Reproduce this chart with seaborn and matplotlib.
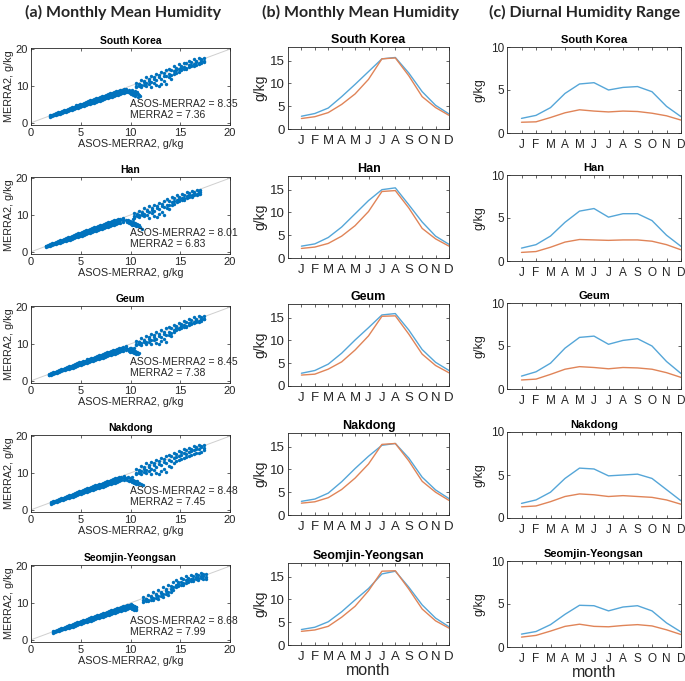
import matplotlib
matplotlib.use("Agg")
import matplotlib.pyplot as plt
import seaborn as sns
import pandas as pd

# ============ data ============
regions = ["South Korea", "Han", "Geum", "Nakdong", "Seomjin-Yeongsan"]
months = ["J", "F", "M", "A", "M", "J", "J", "A", "S", "O", "N", "D"]

# (a) scatter: ASOS-MERRA2 (x) vs MERRA2 (y), monthly means.
# each cloud is read as a low band, a cluster near x=10 and a high band;
# the bands are read at three heights (a = top, b = middle, c = bottom)
sk_lo_x = [1.9, 2.1, 2.3, 2.5, 2.7, 2.9, 3.1, 3.3, 3.5, 3.7, 3.9, 4.1, 4.3, 4.5, 4.7, 4.9, 5.1, 5.3, 5.5, 5.7, 5.9, 6.1, 6.3, 6.5, 6.7, 6.9, 7.1, 7.3, 7.5, 7.7, 7.9, 8.1, 8.3, 8.5, 8.7, 8.9, 9.1, 9.3, 9.5]
sk_lo_a = [2.0, 2.2, 2.4, 2.6, 2.8, 3.0, 3.2, 3.4, 3.6, 3.8, 4.0, 4.2, 4.4, 4.7, 4.8, 5.1, 5.2, 5.4, 5.7, 5.8, 6.1, 6.2, 6.4, 6.7, 6.8, 7.0, 7.2, 7.4, 7.6, 7.8, 8.0, 8.1, 8.3, 8.5, 8.7, 8.8, 9.0, 9.1, 9.3]
sk_lo_b = [1.8, 2.0, 2.2, 2.3, 2.5, 2.7, 2.9, 3.1, 3.3, 3.5, 3.7, 3.9, 4.1, 4.3, 4.4, 4.7, 4.8, 5.0, 5.2, 5.4, 5.6, 5.7, 5.9, 6.1, 6.3, 6.5, 6.7, 6.9, 7.1, 7.3, 7.5, 7.6, 7.8, 8.0, 8.2, 8.3, 8.5, 8.7, 8.9]
sk_lo_c = [1.6, 1.8, 2.0, 2.1, 2.3, 2.5, 2.7, 2.9, 3.0, 3.2, 3.4, 3.6, 3.8, 3.9, 4.1, 4.3, 4.5, 4.6, 4.8, 5.0, 5.2, 5.3, 5.5, 5.7, 5.9, 6.0, 6.2, 6.4, 6.6, 6.8, 6.9, 7.1, 7.3, 7.5, 7.6, 7.8, 8.0, 8.2, 8.4]
sk_cl_x = [9.6, 9.7, 9.8, 9.9, 10.0, 10.1, 10.2, 10.3, 10.4, 10.5, 10.6, 10.7, 10.8, 10.9, 11.0, 10.2, 10.5, 10.8]
sk_cl_y = [8.7, 8.3, 8.9, 8.0, 8.6, 7.7, 8.4, 7.5, 8.1, 7.2, 7.9, 8.3, 7.0, 7.6, 7.3, 9.0, 8.7, 7.8]
sk_up_x = [10.6, 10.9, 11.1, 11.4, 11.6, 11.9, 12.1, 12.4, 12.6, 12.9, 13.1, 13.4, 13.6, 13.9, 14.1, 14.4, 14.6, 14.9, 15.1, 15.4, 15.6, 15.9, 16.1, 16.4, 16.6, 16.9, 17.1, 17.4]
sk_up_a = [10.9, 10.6, 11.6, 11.3, 12.3, 11.8, 12.8, 12.4, 13.3, 12.9, 13.8, 13.4, 14.2, 14.6, 14.4, 15.3, 15.0, 15.9, 15.5, 16.3, 16.1, 16.8, 16.4, 17.2, 16.9, 17.6, 17.2, 17.5]
sk_up_b = [10.0, 10.5, 10.3, 11.0, 10.7, 11.4, 11.1, 11.9, 11.5, 12.3, 11.9, 12.7, 12.6, 13.3, 13.1, 14.0, 14.3, 14.5, 14.9, 15.2, 15.0, 15.7, 15.8, 16.0, 16.5, 16.3, 16.9, 16.8]
sk_up_c = [9.6, 9.9, 9.7, 10.3, 10.0, 10.5, 9.7, 10.9, 10.2, 9.9, 10.6, 11.3, 10.5, 12.4, 12.0, 13.2, 13.6, 13.9, 14.2, 14.5, 14.6, 15.1, 15.3, 15.5, 15.8, 15.9, 16.2, 16.6]

han_lo_x = [1.5, 1.7, 1.9, 2.1, 2.3, 2.5, 2.7, 2.9, 3.1, 3.3, 3.5, 3.7, 3.9, 4.1, 4.3, 4.5, 4.7, 4.9, 5.1, 5.3, 5.5, 5.7, 5.9, 6.1, 6.3, 6.5, 6.7, 6.9, 7.1, 7.3, 7.5, 7.7, 7.9, 8.1, 8.3, 8.5, 8.7, 8.9, 9.2]
han_lo_a = [1.7, 1.9, 2.1, 2.3, 2.5, 2.7, 2.9, 3.1, 3.3, 3.5, 3.7, 3.9, 4.1, 4.4, 4.6, 4.8, 5.0, 5.2, 5.4, 5.6, 5.9, 6.0, 6.2, 6.4, 6.6, 6.8, 7.0, 7.2, 7.4, 7.6, 7.8, 8.0, 8.2, 8.4, 8.5, 8.7, 8.9, 9.0, 9.2]
han_lo_b = [1.5, 1.6, 1.8, 2.0, 2.2, 2.4, 2.6, 2.7, 2.9, 3.1, 3.3, 3.5, 3.7, 3.9, 4.1, 4.3, 4.5, 4.7, 4.9, 5.1, 5.3, 5.5, 5.7, 5.9, 6.1, 6.2, 6.4, 6.6, 6.8, 7.0, 7.2, 7.4, 7.6, 7.8, 8.0, 8.1, 8.3, 8.5, 8.7]
han_lo_c = [1.3, 1.5, 1.6, 1.8, 2.0, 2.1, 2.3, 2.5, 2.6, 2.8, 3.0, 3.2, 3.3, 3.5, 3.7, 3.9, 4.1, 4.2, 4.4, 4.6, 4.8, 5.0, 5.2, 5.4, 5.6, 5.7, 5.9, 6.1, 6.3, 6.5, 6.6, 6.8, 7.0, 7.2, 7.4, 7.5, 7.7, 7.9, 8.1]
han_cl_x = [9.5, 9.6, 9.7, 9.8, 9.9, 10.0, 10.1, 10.2, 10.3, 10.4, 10.5, 10.6, 10.7, 10.8, 10.9, 11.0, 11.2, 10.3]
han_cl_y = [8.5, 8.1, 8.7, 7.8, 8.4, 7.6, 8.2, 7.4, 8.0, 7.2, 7.8, 7.0, 7.5, 6.9, 7.3, 6.8, 6.3, 8.8]
han_up_x = [10.4, 10.7, 10.9, 11.2, 11.4, 11.7, 11.9, 12.2, 12.4, 12.7, 12.9, 13.2, 13.4, 13.7, 13.9, 14.2, 14.4, 14.7, 14.9, 15.2, 15.4, 15.7, 15.9, 16.2, 16.4, 16.7, 16.9, 17.0]
han_up_a = [10.5, 10.2, 11.1, 10.8, 11.8, 11.4, 12.3, 12.0, 12.8, 12.5, 13.3, 12.9, 13.8, 14.2, 13.9, 14.8, 14.5, 15.3, 15.0, 15.8, 15.5, 16.2, 15.9, 16.6, 16.3, 16.9, 16.6, 16.8]
han_up_b = [9.7, 10.1, 9.9, 10.6, 10.3, 11.0, 10.7, 11.4, 11.1, 11.9, 11.5, 12.3, 12.1, 12.8, 12.6, 13.5, 13.8, 14.0, 14.4, 14.7, 14.6, 15.2, 15.3, 15.5, 15.9, 15.7, 16.2, 16.1]
han_up_c = [9.3, 9.6, 9.4, 9.9, 9.6, 10.1, 9.3, 10.4, 9.8, 9.5, 10.2, 10.8, 10.0, 11.9, 11.5, 12.7, 13.1, 13.4, 13.7, 14.0, 14.1, 14.6, 14.8, 15.0, 15.3, 15.4, 15.7, 15.8]

geum_lo_x = [1.8, 2.0, 2.2, 2.4, 2.6, 2.8, 3.0, 3.2, 3.4, 3.6, 3.8, 4.0, 4.2, 4.4, 4.6, 4.8, 5.0, 5.2, 5.4, 5.6, 5.8, 6.0, 6.2, 6.4, 6.6, 6.8, 7.0, 7.2, 7.4, 7.6, 7.8, 8.0, 8.2, 8.4, 8.6, 8.8, 9.0, 9.2, 9.5]
geum_lo_a = [1.9, 2.1, 2.3, 2.5, 2.7, 2.9, 3.1, 3.3, 3.5, 3.7, 3.9, 4.1, 4.3, 4.5, 4.8, 5.0, 5.1, 5.3, 5.5, 5.8, 6.0, 6.1, 6.3, 6.5, 6.7, 6.9, 7.1, 7.3, 7.5, 7.7, 7.9, 8.1, 8.3, 8.4, 8.6, 8.8, 9.0, 9.2, 9.4]
geum_lo_b = [1.7, 1.9, 2.1, 2.2, 2.4, 2.6, 2.8, 3.0, 3.2, 3.4, 3.6, 3.8, 3.9, 4.1, 4.3, 4.5, 4.7, 4.9, 5.1, 5.3, 5.5, 5.7, 5.9, 6.0, 6.2, 6.4, 6.6, 6.8, 7.0, 7.2, 7.4, 7.6, 7.8, 8.0, 8.1, 8.3, 8.5, 8.7, 8.9]
geum_lo_c = [1.5, 1.7, 1.9, 2.1, 2.2, 2.4, 2.6, 2.8, 2.9, 3.1, 3.3, 3.5, 3.6, 3.8, 4.0, 4.2, 4.4, 4.5, 4.7, 4.9, 5.1, 5.3, 5.4, 5.6, 5.8, 6.0, 6.2, 6.3, 6.5, 6.7, 6.9, 7.1, 7.3, 7.4, 7.6, 7.8, 8.0, 8.2, 8.4]
geum_cl_x = [9.7, 9.8, 9.9, 10.0, 10.1, 10.2, 10.3, 10.4, 10.5, 10.6, 10.7, 10.8, 10.9, 10.1, 10.4, 9.9]
geum_cl_y = [8.6, 8.2, 8.8, 8.0, 8.5, 7.8, 8.3, 7.6, 8.1, 7.4, 7.9, 7.3, 7.6, 9.0, 8.8, 7.7]
geum_up_x = [10.6, 10.9, 11.1, 11.4, 11.6, 11.9, 12.1, 12.4, 12.6, 12.9, 13.1, 13.4, 13.6, 13.9, 14.1, 14.4, 14.6, 14.9, 15.1, 15.4, 15.6, 15.9, 16.1, 16.4, 16.6, 16.9, 17.1, 17.4]
geum_up_a = [10.8, 10.5, 11.5, 11.2, 12.2, 11.8, 12.7, 12.3, 13.2, 12.8, 13.7, 13.3, 14.2, 14.6, 14.3, 15.2, 14.9, 15.8, 15.5, 16.3, 16.0, 16.8, 16.4, 17.3, 16.9, 17.7, 17.3, 17.6]
geum_up_b = [9.9, 10.4, 10.2, 10.9, 10.6, 11.3, 11.0, 11.8, 11.4, 12.2, 11.8, 12.6, 12.5, 13.2, 13.0, 13.9, 14.2, 14.4, 14.8, 15.1, 14.9, 15.6, 15.7, 15.9, 16.4, 16.2, 16.8, 16.7]
geum_up_c = [9.7, 10.0, 9.8, 10.4, 10.1, 10.6, 9.9, 11.0, 10.3, 10.0, 10.7, 11.4, 10.6, 12.5, 12.1, 13.3, 13.7, 14.0, 14.3, 14.6, 14.7, 15.2, 15.4, 15.6, 15.9, 16.0, 16.3, 16.7]

nak_lo_x = [2.0, 2.2, 2.4, 2.6, 2.8, 3.0, 3.2, 3.4, 3.6, 3.8, 4.0, 4.2, 4.4, 4.6, 4.8, 5.0, 5.2, 5.4, 5.6, 5.8, 6.0, 6.2, 6.4, 6.6, 6.8, 7.0, 7.2, 7.4, 7.6, 7.8, 8.0, 8.2, 8.4, 8.6, 8.8, 9.0, 9.3]
nak_lo_a = [2.1, 2.3, 2.5, 2.7, 2.9, 3.1, 3.3, 3.5, 3.7, 3.9, 4.1, 4.3, 4.5, 4.8, 5.0, 5.2, 5.4, 5.6, 5.8, 6.0, 6.2, 6.4, 6.6, 6.8, 7.0, 7.1, 7.3, 7.5, 7.7, 7.9, 8.1, 8.3, 8.5, 8.6, 8.8, 9.0, 9.2]
nak_lo_b = [1.9, 2.1, 2.3, 2.4, 2.6, 2.8, 3.0, 3.2, 3.4, 3.6, 3.8, 4.0, 4.2, 4.3, 4.5, 4.7, 4.9, 5.1, 5.3, 5.5, 5.7, 5.9, 6.1, 6.3, 6.4, 6.6, 6.8, 7.0, 7.2, 7.4, 7.6, 7.7, 7.9, 8.1, 8.3, 8.5, 8.7]
nak_lo_c = [1.7, 1.9, 2.1, 2.2, 2.4, 2.6, 2.7, 2.9, 3.1, 3.3, 3.5, 3.6, 3.8, 4.0, 4.2, 4.4, 4.5, 4.7, 4.9, 5.1, 5.3, 5.4, 5.6, 5.8, 6.0, 6.2, 6.3, 6.5, 6.7, 6.9, 7.1, 7.2, 7.4, 7.6, 7.8, 8.0, 8.2]
nak_cl_x = [9.5, 9.6, 9.7, 9.8, 9.9, 10.0, 10.1, 10.2, 10.3, 10.4, 10.5, 10.6, 10.7, 10.8, 10.9, 11.1, 11.3, 10.2]
nak_cl_y = [8.6, 8.2, 8.8, 7.9, 8.5, 7.7, 8.3, 7.5, 8.1, 7.3, 7.9, 7.1, 7.7, 7.0, 7.4, 6.9, 6.8, 9.0]
nak_up_x = [10.6, 10.9, 11.1, 11.4, 11.6, 11.9, 12.1, 12.4, 12.6, 12.9, 13.1, 13.4, 13.6, 13.9, 14.1, 14.4, 14.6, 14.9, 15.1, 15.4, 15.6, 15.9, 16.1, 16.4, 16.6, 16.9, 17.1, 17.4]
nak_up_a = [11.1, 10.8, 11.9, 11.5, 12.6, 12.1, 13.1, 12.7, 13.6, 13.2, 14.1, 13.7, 14.5, 14.9, 14.6, 15.5, 15.2, 16.0, 15.7, 16.5, 16.2, 16.9, 16.6, 17.3, 17.0, 17.6, 17.3, 17.5]
nak_up_b = [10.1, 10.6, 10.4, 11.1, 10.8, 11.6, 11.2, 12.1, 11.7, 12.5, 12.1, 12.9, 12.7, 13.5, 13.3, 14.1, 14.4, 14.7, 15.0, 15.3, 15.1, 15.8, 15.9, 16.1, 16.6, 16.4, 17.0, 16.8]
nak_up_c = [9.6, 9.9, 9.7, 10.2, 9.9, 10.4, 9.6, 10.7, 10.0, 9.8, 10.4, 11.0, 10.3, 12.0, 11.6, 12.8, 13.2, 13.5, 13.8, 14.1, 14.2, 14.7, 14.9, 15.1, 15.4, 15.5, 15.8, 16.2]

sy_lo_x = [2.2, 2.4, 2.6, 2.8, 3.0, 3.2, 3.4, 3.6, 3.8, 4.0, 4.2, 4.4, 4.6, 4.8, 5.0, 5.2, 5.4, 5.6, 5.8, 6.0, 6.2, 6.4, 6.6, 6.8, 7.0, 7.2, 7.4, 7.6, 7.8, 8.0, 8.2, 8.4, 8.6, 8.8, 9.0, 9.2, 9.4, 9.6, 9.8, 10.0, 10.2, 10.4, 10.6]
sy_lo_a = [2.3, 2.5, 2.7, 2.9, 3.1, 3.3, 3.5, 3.7, 3.9, 4.1, 4.3, 4.5, 4.7, 4.9, 5.1, 5.3, 5.5, 5.7, 5.9, 6.1, 6.3, 6.5, 6.6, 6.8, 7.0, 7.2, 7.4, 7.6, 7.8, 8.0, 8.1, 8.3, 8.5, 8.7, 8.9, 9.1, 9.2, 9.4, 9.5, 9.6, 9.4, 9.2, 8.9]
sy_lo_b = [2.1, 2.3, 2.5, 2.6, 2.8, 3.0, 3.2, 3.4, 3.6, 3.8, 4.0, 4.2, 4.3, 4.5, 4.7, 4.9, 5.1, 5.3, 5.5, 5.7, 5.8, 6.0, 6.2, 6.4, 6.6, 6.8, 6.9, 7.1, 7.3, 7.5, 7.7, 7.8, 8.0, 8.2, 8.4, 8.6, 8.7, 8.9, 9.0, 9.1, 8.9, 8.7, 8.4]
sy_lo_c = [1.9, 2.1, 2.3, 2.4, 2.6, 2.8, 2.9, 3.1, 3.3, 3.5, 3.6, 3.8, 4.0, 4.2, 4.3, 4.5, 4.7, 4.9, 5.1, 5.2, 5.4, 5.6, 5.8, 5.9, 6.1, 6.3, 6.5, 6.6, 6.8, 7.0, 7.2, 7.3, 7.5, 7.7, 7.9, 8.1, 8.2, 8.4, 8.5, 8.6, 8.4, 8.2, 8.0]
sy_cl_x = [10.0, 10.1, 10.2, 10.3, 10.4, 10.5, 10.6, 10.2]
sy_cl_y = [9.2, 8.8, 9.5, 9.0, 9.3, 8.7, 9.0, 8.5]
sy_up_x = [11.3, 11.6, 11.8, 12.1, 12.3, 12.6, 12.8, 13.1, 13.3, 13.6, 13.8, 14.1, 14.3, 14.6, 14.8, 15.1, 15.3, 15.6, 15.8, 16.1, 16.3, 16.6, 16.8, 17.1, 17.3, 17.6]
sy_up_a = [11.5, 11.2, 12.2, 11.9, 12.9, 12.5, 13.5, 13.1, 14.2, 13.8, 14.9, 14.5, 15.6, 16.1, 15.8, 16.7, 16.4, 17.2, 16.9, 17.6, 17.3, 17.9, 17.5, 18.1, 17.8, 17.9]
sy_up_b = [10.7, 11.1, 10.9, 11.6, 11.4, 12.1, 11.8, 12.6, 12.4, 13.2, 13.0, 13.9, 14.3, 14.9, 15.2, 15.6, 15.4, 16.1, 16.3, 16.6, 16.5, 17.0, 16.9, 17.3, 17.2, 17.1]
sy_up_c = [10.3, 10.5, 10.4, 10.9, 10.7, 11.3, 11.0, 11.8, 11.6, 12.4, 12.2, 13.0, 13.6, 14.2, 14.6, 15.0, 14.9, 15.5, 15.7, 16.0, 15.9, 16.4, 16.3, 16.7, 16.6, 16.5]

clouds = [
    (sk_lo_x, sk_lo_a, sk_lo_b, sk_lo_c, sk_cl_x, sk_cl_y, sk_up_x, sk_up_a, sk_up_b, sk_up_c),
    (han_lo_x, han_lo_a, han_lo_b, han_lo_c, han_cl_x, han_cl_y, han_up_x, han_up_a, han_up_b, han_up_c),
    (geum_lo_x, geum_lo_a, geum_lo_b, geum_lo_c, geum_cl_x, geum_cl_y, geum_up_x, geum_up_a, geum_up_b, geum_up_c),
    (nak_lo_x, nak_lo_a, nak_lo_b, nak_lo_c, nak_cl_x, nak_cl_y, nak_up_x, nak_up_a, nak_up_b, nak_up_c),
    (sy_lo_x, sy_lo_a, sy_lo_b, sy_lo_c, sy_cl_x, sy_cl_y, sy_up_x, sy_up_a, sy_up_b, sy_up_c),
]
stat_asos = [8.35, 8.01, 8.45, 8.48, 8.68]
stat_merra = [7.36, 6.83, 7.38, 7.45, 7.99]

# (b) monthly mean humidity, g/kg
mean_asos = [
    [2.8, 3.4, 4.6, 7.1, 9.8, 12.6, 15.4, 15.7, 12.3, 8.2, 5.2, 3.3],
    [2.6, 3.1, 4.5, 6.8, 9.7, 12.6, 15.0, 15.4, 11.7, 7.9, 4.8, 3.0],
    [2.8, 3.4, 4.8, 7.2, 10.1, 12.8, 15.6, 15.9, 12.3, 8.0, 5.2, 3.4],
    [3.0, 3.5, 4.8, 7.3, 10.2, 12.9, 15.3, 15.7, 12.5, 8.3, 5.5, 3.6],
    [3.4, 3.9, 5.1, 7.3, 9.9, 12.4, 15.6, 16.2, 12.7, 8.8, 5.9, 4.0],
]
mean_merra = [
    [2.3, 2.7, 3.6, 5.4, 7.7, 10.9, 15.4, 15.6, 11.7, 7.1, 4.7, 3.0],
    [2.1, 2.4, 3.2, 4.8, 7.1, 10.2, 14.6, 14.8, 11.0, 6.5, 4.2, 2.6],
    [2.4, 2.6, 3.7, 5.3, 7.9, 11.0, 15.3, 15.4, 11.4, 7.0, 4.5, 2.9],
    [2.6, 2.9, 3.8, 5.6, 8.1, 11.2, 15.5, 15.7, 11.9, 7.4, 5.0, 3.2],
    [3.0, 3.3, 4.1, 6.1, 8.5, 11.9, 16.2, 16.3, 12.3, 7.9, 5.3, 3.7],
]

# (c) diurnal humidity range, g/kg
range_asos = [
    [1.7, 2.05, 2.95, 4.6, 5.7, 5.85, 5.0, 5.3, 5.4, 4.8, 3.1, 1.9],
    [1.5, 1.9, 2.9, 4.5, 5.8, 6.1, 5.1, 5.5, 5.5, 4.7, 3.0, 1.7],
    [1.5, 2.0, 3.0, 4.75, 6.0, 6.15, 5.2, 5.65, 5.85, 5.0, 3.2, 1.8],
    [1.7, 2.1, 3.0, 4.6, 5.8, 5.7, 4.9, 5.0, 5.1, 4.6, 3.3, 2.0],
    [1.5, 1.8, 2.6, 3.8, 4.85, 4.8, 4.2, 4.65, 4.8, 4.2, 2.8, 1.75],
]
range_merra = [
    [1.25, 1.3, 1.8, 2.35, 2.7, 2.55, 2.45, 2.55, 2.5, 2.3, 2.0, 1.5],
    [1.0, 1.1, 1.6, 2.2, 2.5, 2.45, 2.4, 2.45, 2.45, 2.3, 1.9, 1.3],
    [1.05, 1.15, 1.7, 2.3, 2.6, 2.5, 2.35, 2.5, 2.45, 2.3, 1.9, 1.35],
    [1.3, 1.4, 1.9, 2.5, 2.8, 2.7, 2.5, 2.6, 2.5, 2.4, 2.1, 1.6],
    [1.15, 1.35, 1.85, 2.4, 2.65, 2.4, 2.35, 2.5, 2.6, 2.45, 2.0, 1.45],
]

# ============ styling ============
sns.set_theme(style="ticks")
plt.rcParams["font.family"] = ["Liberation Sans", "DejaVu Sans"]

dot_blue = "#0072BD"
line_blue = "#55A6D8"
line_orange = "#E08458"
txt = "#262626"

W, H = 685, 681
fig = plt.figure(figsize=(W / 100, H / 100), dpi=100)


def rect(left, top, width, height):
    return [left / W, 1 - (top + height) / H, width / W, height / H]


def box_ticks(ax, size):
    ax.tick_params(direction="in", top=True, right=True, length=2.5, width=0.5,
                   labelsize=size, pad=2, colors=txt)
    for s in ax.spines.values():
        s.set_visible(True)
        s.set_linewidth(0.6)
        s.set_color("#262626")


def cloud_frame(c):
    lo_x, lo_a, lo_b, lo_c, cl_x, cl_y, up_x, up_a, up_b, up_c = c
    xs = lo_x * 3 + cl_x + up_x * 3
    ys = lo_a + lo_b + lo_c + cl_y + up_a + up_b + up_c
    return pd.DataFrame({"asos": xs, "merra": ys})


month_idx = list(range(1, 13))
tops_a = [48, 177, 306, 435, 565]
tops_b = [47, 176, 304, 433, 563]
tops_c = [47, 175, 303, 432, 561]

for i, reg in enumerate(regions):
    # ---- column (a): scatter
    ax = fig.add_axes(rect(31, tops_a[i], 199, 77))
    ax.plot([0, 20], [0, 20], color="#cfcfcf", lw=0.7, zorder=1)
    sns.scatterplot(data=cloud_frame(clouds[i]), x="asos", y="merra", ax=ax,
                    color=dot_blue, s=6, linewidth=0, zorder=2)
    ax.set_xlim(0, 20)
    ax.set_ylim(-0.6, 20.3)
    ax.set_xticks([0, 5, 10, 15, 20])
    ax.set_yticks([0, 10, 20])
    box_ticks(ax, 8)
    ax.set_title(reg, fontsize=7.5, fontweight="bold", pad=3, color="black")
    ax.set_xlabel("ASOS-MERRA2, g/kg", fontsize=7.8, labelpad=1, color=txt)
    ax.set_ylabel("MERRA2, g/kg", fontsize=7.8, labelpad=1, color=txt)
    ax.text(10.0, 5.0, f"ASOS-MERRA2 = {stat_asos[i]:.2f}", fontsize=7.5,
            va="center", ha="left", color=txt)
    ax.text(10.0, 2.2, f"MERRA2 = {stat_merra[i]:.2f}", fontsize=7.5,
            va="center", ha="left", color=txt)

    # ---- column (b): monthly mean
    ax = fig.add_axes(rect(288, tops_b[i], 161, 82))
    dfb = pd.DataFrame({"m": month_idx * 2,
                        "v": mean_asos[i] + mean_merra[i],
                        "src": ["ASOS"] * 12 + ["MERRA2"] * 12})
    sns.lineplot(data=dfb, x="m", y="v", hue="src", ax=ax,
                 palette=[line_blue, line_orange], lw=1.0, legend=False)
    ax.set_xlim(0, 12)
    ax.set_ylim(0, 18)
    ax.set_xticks(month_idx)
    ax.set_xticklabels(months)
    ax.set_yticks([0, 5, 10, 15])
    box_ticks(ax, 9.5)
    ax.tick_params(axis="x", pad=4)
    ax.set_title(reg, fontsize=9, fontweight="bold", pad=3, color="black")
    ax.set_ylabel("g/kg", fontsize=10, labelpad=2, color=txt)
    ax.set_xlabel("month" if i == 4 else "", fontsize=11.5, labelpad=0, color=txt)

    # ---- column (c): diurnal range
    ax = fig.add_axes(rect(507, tops_c[i], 174, 86))
    dfc = pd.DataFrame({"m": month_idx * 2,
                        "v": range_asos[i] + range_merra[i],
                        "src": ["ASOS"] * 12 + ["MERRA2"] * 12})
    sns.lineplot(data=dfc, x="m", y="v", hue="src", ax=ax,
                 palette=[line_blue, line_orange], lw=1.0, legend=False)
    ax.set_xlim(0, 12)
    ax.set_ylim(0, 10)
    ax.set_xticks(month_idx)
    ax.set_xticklabels(months)
    ax.set_yticks([0, 5, 10])
    box_ticks(ax, 8.5)
    ax.tick_params(axis="x", pad=4)
    ax.set_title(reg, fontsize=8, fontweight="bold", pad=3, color="black")
    ax.set_ylabel("g/kg", fontsize=9, labelpad=4, color=txt)
    ax.set_xlabel("month" if i == 4 else "", fontsize=11.5, labelpad=0, color=txt)

head_font = ["Lato", "DejaVu Sans"]
fig.text(123 / W, 1 - 12 / H, "(a) Monthly Mean Humidity", ha="center", va="center",
         fontsize=11.5, fontweight="bold", family=head_font)
fig.text(361 / W, 1 - 12 / H, "(b) Monthly Mean Humidity", ha="center", va="center",
         fontsize=11.5, fontweight="bold", family=head_font)
fig.text(585 / W, 1 - 12 / H, "(c) Diurnal Humidity Range", ha="center", va="center",
         fontsize=11.5, fontweight="bold", family=head_font)

fig.savefig("out.png", dpi=100)
